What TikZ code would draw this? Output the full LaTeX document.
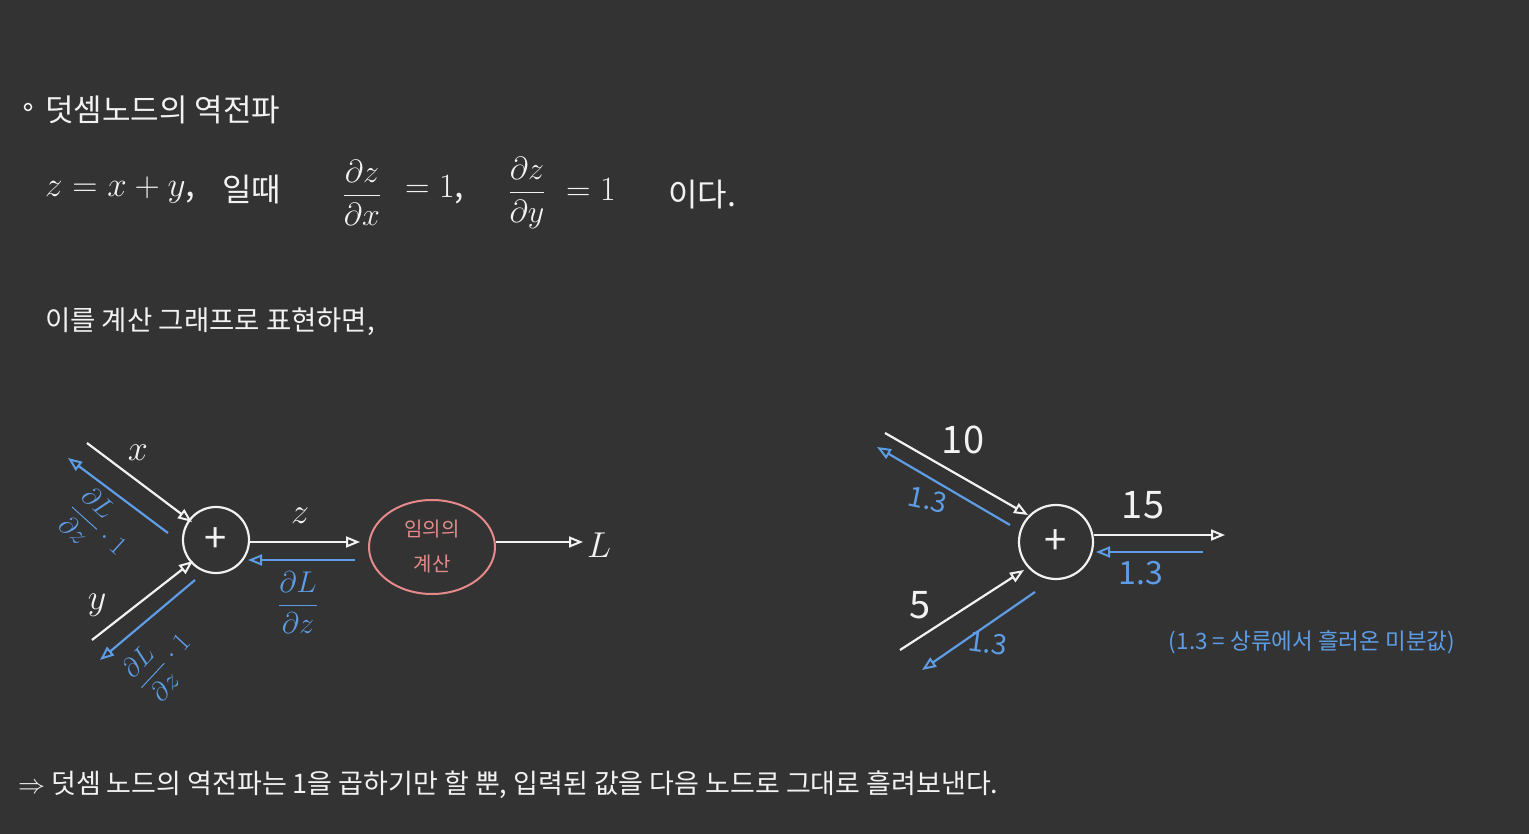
\RequirePackage{fix-cm}
\documentclass[tikz,border=0pt]{standalone}
\usepackage{amsmath}
\usepackage{fontspec}
\setmainfont{Noto Sans CJK KR}
\usetikzlibrary{arrows.meta,shapes.geometric}
\definecolor{bg}{HTML}{333333}
\definecolor{ink}{HTML}{F2F2F2}
\definecolor{blu}{HTML}{5E9DE6}
\definecolor{pnk}{HTML}{E58A8A}
\tikzset{
 tipopen/.style={-{Triangle[open,length=14pt,width=11pt,line width=2pt]}},
 fwd/.style={draw=ink, line width=2.2pt, tipopen},
 bwd/.style={draw=blu, line width=2.2pt, tipopen},
 txt/.style={text=ink, inner sep=0pt},
 bluetxt/.style={text=blu, inner sep=0pt},
 addnode/.style={circle, draw=ink, line width=2.2pt, inner sep=0pt, text=ink, font=\fontsize{40}{40}\selectfont},
 calcnode/.style={ellipse, draw=pnk, line width=2pt, minimum width=126pt, minimum height=94pt, text=pnk, align=center, font=\fontsize{20}{35}\selectfont},
}
\begin{document}
\begin{tikzpicture}[x=1pt,y=-1pt]
\fill[bg] (0,0) rectangle (1529,834);
\useasboundingbox (0,0) rectangle (1529,834);

% heading
\draw[ink, line width=1.5pt] (28,107) circle (3.5);
\node[txt, anchor=west, font=\fontsize{31}{33}\selectfont] (title) at (45,110) {덧셈노드의 역전파};

% equation line
\node[txt, anchor=west, font=\fontsize{35}{37}\selectfont] (eq) at (45,190) {$z = x + y$,};
\node[txt, anchor=west, font=\fontsize{32}{34}\selectfont] (ilttae) at (222,190) {일때};
\node[txt, font=\fontsize{32}{34}\selectfont] (fx) at (362,193) {$\dfrac{\partial z}{\partial x}$};
\node[txt, anchor=west, font=\fontsize{34}{36}\selectfont] (e1) at (405,190) {$=1$,};
\node[txt, font=\fontsize{32}{34}\selectfont] (fy) at (527,193) {$\dfrac{\partial z}{\partial y}$};
\node[txt, anchor=west, font=\fontsize{34}{36}\selectfont] (e2) at (566,190) {$=1$};
\node[txt, anchor=west, font=\fontsize{32}{34}\selectfont] (ida) at (668,195) {이다.};

\node[txt, anchor=west, font=\fontsize{27.5}{30}\selectfont] (line3) at (45,322) {이를 계산 그래프로 표현하면,};

% ---------- left graph ----------
\node[addnode, minimum size=66pt] (pl) at (216,540) {+};
\node[calcnode] (calc) at (432,547) {임의의\\계산};

\coordinate (xs) at (87,443);
\coordinate (xe) at (192,522);
\coordinate (xbs) at (168,533);
\coordinate (xbe) at (68,458);
\coordinate (ys) at (92,640);
\coordinate (ye) at (193,561);
\coordinate (ybs) at (195,580);
\coordinate (ybe) at (100,660);
\coordinate (ze) at (360,542);
\coordinate (zbs) at (355,560);
\coordinate (zbe) at (248,560);
\coordinate (le) at (583,542);

\draw[fwd] (xs) -- (xe);
\draw[bwd] (xbs) -- (xbe);
\draw[fwd] (ys) -- (ye);
\draw[bwd] (ybs) -- (ybe);
\draw[fwd] (pl.east |- ze) -- (ze);
\draw[bwd] (zbs) -- (zbe);
\draw[fwd] (calc.east |- le) -- (le);

\node[txt, font=\fontsize{36}{38}\selectfont] (xl) at (138,453) {$x$};
\node[txt, font=\fontsize{36}{38}\selectfont] (yl) at (97,605) {$y$};
\node[txt, font=\fontsize{36}{38}\selectfont] (zl) at (300,516) {$z$};
\node[txt, anchor=west, font=\fontsize{36}{38}\selectfont] (Ll) at (587,545) {$L$};
\node[bluetxt, rotate=-42, font=\fontsize{27}{29}\selectfont] (gx) at (98,527) {$\dfrac{\partial L}{\partial z}\cdot 1$};
\node[bluetxt, rotate=47, font=\fontsize{27}{29}\selectfont] (gy) at (162,662) {$\dfrac{\partial L}{\partial z}\cdot 1$};
\node[bluetxt, font=\fontsize{30}{32}\selectfont] (gz) at (298,603) {$\dfrac{\partial L}{\partial z}$};

% ---------- right graph ----------
\node[addnode, minimum size=74pt] (pr) at (1056,542) {+};
\coordinate (as) at (885,433);
\coordinate (ae) at (1028,515);
\coordinate (abs) at (1010,525);
\coordinate (abe) at (877,447);
\coordinate (bs) at (900,650);
\coordinate (be) at (1024,570);
\coordinate (bbs) at (1035,592);
\coordinate (bbe) at (922,670);
\coordinate (oe) at (1225,535);
\coordinate (obs) at (1203,552);
\coordinate (obe) at (1096,552);

\draw[fwd] (as) -- (ae);
\draw[bwd] (abs) -- (abe);
\draw[fwd] (bs) -- (be);
\draw[bwd] (bbs) -- (bbe);
\draw[fwd] (pr.east |- oe) -- (oe);
\draw[bwd] (obs) -- (obe);

\node[txt, font=\fontsize{38}{40}\selectfont] (v10) at (963,440) {10};
\node[txt, font=\fontsize{38}{40}\selectfont] (v5) at (920,605) {5};
\node[txt, font=\fontsize{38}{40}\selectfont] (v15) at (1143,505) {15};
\node[bluetxt, rotate=-12, font=\fontsize{28}{30}\selectfont] (g1) at (928,500) {1.3};
\node[bluetxt, rotate=-8, font=\fontsize{28}{30}\selectfont] (g2) at (988,643) {1.3};
\node[bluetxt, font=\fontsize{32}{34}\selectfont] (g3) at (1141,573) {1.3};
\node[bluetxt, font=\fontsize{22.5}{24}\selectfont] (memo) at (1312,642) {(1.3 = 상류에서 흘러온 미분값)};

% conclusion
\node[txt, anchor=west, font=\fontsize{27}{30}\selectfont] (concl) at (18,785) {$\Rightarrow$ 덧셈 노드의 역전파는 1을 곱하기만 할 뿐, 입력된 값을 다음 노드로 그대로 흘려보낸다.};
\end{tikzpicture}
\end{document}
